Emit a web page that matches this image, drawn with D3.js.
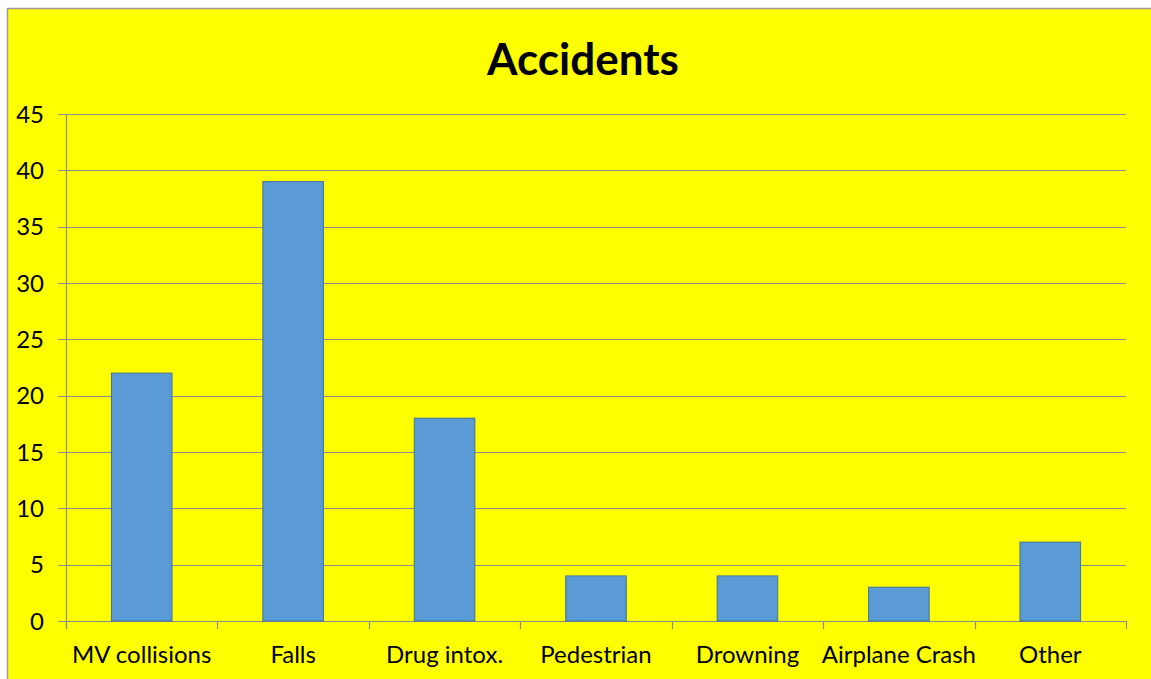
<!DOCTYPE html>
<html>
<head>
<meta charset="utf-8">
<script src="https://cdn.jsdelivr.net/npm/d3@7"></script>
<style>
  body { margin: 0; background: #fff; }
  svg { display: block; }
  text { font-family: Lato, "Open Sans", sans-serif; }
</style>
</head>
<body>
<svg id="chart" width="1151" height="679"></svg>
<script>
const categories = ["MV collisions", "Falls", "Drug intox.", "Pedestrian", "Drowning", "Airplane Crash", "Other"];
const counts = [22, 39, 18, 4, 4, 3, 7];
const yTicks = [0, 5, 10, 15, 20, 25, 30, 35, 40, 45];

const svg = d3.select("#chart");
const margin = {top: 114, left: 66, right: 25, bottom: 58};
const width = 1151, height = 679;

// chart background box
svg.append("rect")
    .attr("x", 7.5).attr("y", 8.5)
    .attr("width", width).attr("height", height)
    .attr("fill", "#ffff00")
    .attr("stroke", "#9a9a9a")
    .attr("stroke-width", 1.5);

svg.append("text")
    .attr("x", 583).attr("y", 75)
    .attr("text-anchor", "middle")
    .attr("font-size", 44)
    .attr("font-weight", "bold")
    .text("Accidents");

const x = d3.scaleBand()
    .domain(categories)
    .range([margin.left, width - margin.right])
    .paddingInner(0.6)
    .paddingOuter(0.3);

const y = d3.scaleLinear()
    .domain([0, 45])
    .range([height - margin.bottom, margin.top]);

// gridlines
svg.append("g")
    .selectAll("line")
    .data(yTicks)
    .join("line")
    .attr("x1", margin.left - 8)
    .attr("x2", width - margin.right)
    .attr("y1", d => Math.round(y(d)) + 0.5)
    .attr("y2", d => Math.round(y(d)) + 0.5)
    .attr("stroke", "#8c8c8c")
    .attr("stroke-width", 1.2);

// y labels
svg.append("g")
    .selectAll("text")
    .data(yTicks)
    .join("text")
    .attr("x", 44)
    .attr("y", d => y(d))
    .attr("dy", "0.36em")
    .attr("text-anchor", "end")
    .attr("font-size", 24)
    .text(d => d);

// y axis line
svg.append("line")
    .attr("x1", margin.left + 0.5).attr("x2", margin.left + 0.5)
    .attr("y1", y(45)).attr("y2", y(0) + 8)
    .attr("stroke", "#8c8c8c").attr("stroke-width", 1.2);

// category boundary ticks
const bounds = categories.map(c => x(c) - x.step() * x.paddingInner() / 2);
bounds[0] = margin.left;
bounds.push(width - margin.right);
svg.append("g")
    .selectAll("line")
    .data(bounds)
    .join("line")
    .attr("x1", d => Math.round(d) + 0.5)
    .attr("x2", d => Math.round(d) + 0.5)
    .attr("y1", y(0))
    .attr("y2", y(0) + 8)
    .attr("stroke", "#8c8c8c").attr("stroke-width", 1.2);

// bars
svg.append("g")
    .selectAll("rect")
    .data(counts)
    .join("rect")
    .attr("x", (d, i) => x(categories[i]))
    .attr("y", d => y(d))
    .attr("width", x.bandwidth())
    .attr("height", d => y(0) - y(d))
    .attr("fill", "#5b9bd5")
    .attr("stroke", "#41719c")
    .attr("stroke-width", 1);

// category labels
svg.append("g")
    .selectAll("text")
    .data(categories)
    .join("text")
    .attr("x", d => x(d) + x.bandwidth() / 2)
    .attr("y", 663)
    .attr("text-anchor", "middle")
    .attr("font-size", 24)
    .text(d => d);
</script>
</body>
</html>
